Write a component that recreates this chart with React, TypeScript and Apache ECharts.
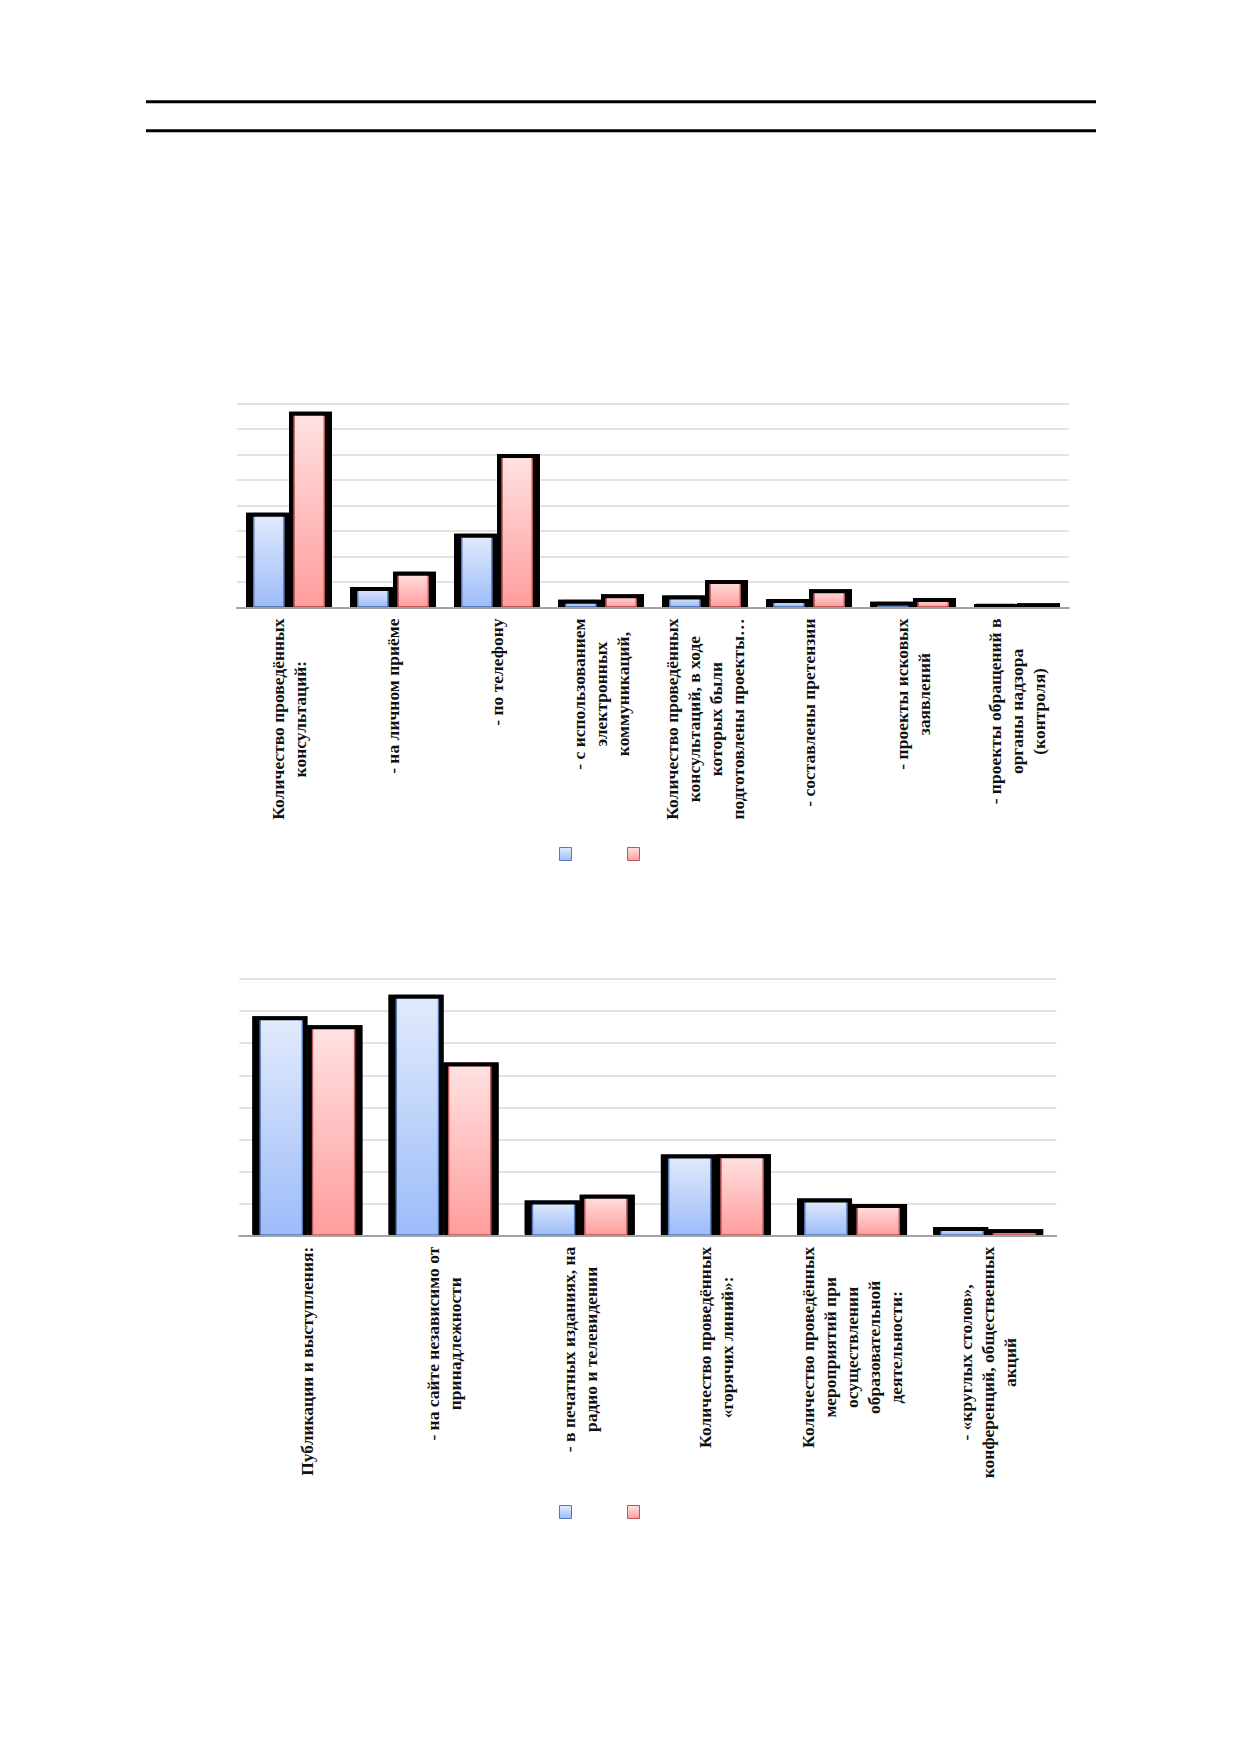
import React, { useEffect, useRef } from "react";
import * as echarts from "echarts";

// ---------- DATA ----------
const seriesNames = ["Ряд1", "Ряд2"];

const categories1 = [
  "Количество проведённых\nконсультаций:",
  "- на личном приёме",
  "- по телефону",
  "- с использованием\nэлектронных\nкоммуникаций,",
  "Количество проведённых\nконсультаций, в ходе\nкоторых были\nподготовлены проекты…",
  "- составлены претензии",
  "- проекты исковых\nзаявлений",
  "- проекты обращений в\nорганы надзора\n(контроля)",
];
const values1A = [372, 80, 289, 30, 47, 33, 23, 14];
const values1B = [768, 140, 602, 52, 108, 72, 37, 17];
const axisMax1 = 800;
const axisStep1 = 100;

const categories2 = [
  "Публикации и выступления:",
  "- на сайте независимо от\nпринадлежности",
  "- в печатных изданиях, на\nрадио и телевидении",
  "Количество проведённых\n«горячих линий»:",
  "Количество проведённых\nмероприятий при\nосуществлении\nобразовательной\nдеятельности:",
  "- «круглых столов»,\nконференций, общественных\nакций",
];
const values2A = [68.4, 75.1, 11.0, 25.3, 11.6, 2.7];
const values2B = [65.6, 54.0, 12.8, 25.4, 9.9, 2.0];
const axisMax2 = 80;
const axisStep2 = 10;

// ---------- STYLE ----------
const FONT = "Liberation Serif";
const TOP_BORDER = 4;
const SIDE_OUT = 7;
const SIDE_IN = 4.3;
const EDGE = 1.5;

const blueFill = () =>
  new echarts.graphic.LinearGradient(0, 0, 0, 1, [
    { offset: 0, color: "#e2ebfc" },
    { offset: 1, color: "#9dbcf9" },
  ]);
const redFill = () =>
  new echarts.graphic.LinearGradient(0, 0, 0, 1, [
    { offset: 0, color: "#ffe2e2" },
    { offset: 1, color: "#ff9d9d" },
  ]);
const blueEdge = "#5479b3";
const redEdge = "#b95656";

function labelFormatter(v: string) {
  return v
    .split("\n")
    .map((l) => "{c|" + l + "}")
    .join("\n");
}

function xAxesFor(gridIndex: number, data: string[]) {
  return [
    {
      type: "category",
      gridIndex,
      data,
      z: 5,
      axisLine: { show: true, lineStyle: { color: "#a3a3a3", width: 2 } },
      axisTick: { show: false },
      axisLabel: {
        interval: 0,
        rotate: 90,
        margin: 11,
        color: "#111",
        fontFamily: FONT,
        fontWeight: "bold",
        fontSize: 17.5,
        formatter: labelFormatter,
        rich: {
          c: {
            align: "center",
            fontFamily: FONT,
            fontWeight: "bold",
            fontSize: 17.5,
            lineHeight: 22,
            color: "#111",
          },
        },
      },
    },
    { type: "category", gridIndex, data, show: false },
    { type: "category", gridIndex, data, show: false },
  ];
}

function yAxisFor(gridIndex: number, max: number, step: number) {
  return {
    type: "value",
    gridIndex,
    min: 0,
    max,
    interval: step,
    axisLabel: { show: false },
    axisLine: { show: false },
    axisTick: { show: false },
    splitLine: { lineStyle: { color: "#d9d9d9", width: 1.5 } },
  };
}

// W = outer width of one bar. Layers: black body, coloured inset, black top rim.
function barSeries(
  xTop: number,
  xBody: number,
  xFill: number,
  yIdx: number,
  dataA: number[],
  dataB: number[],
  W: number
) {
  const fillW = W - SIDE_OUT - SIDE_IN;
  const fillOffset = SIDE_IN + fillW / 2; // centre distance from the junction
  const fillGap = ((2 * fillOffset) / fillW - 1) * 100;
  const fills = [blueFill(), redFill()];
  const edges = [blueEdge, redEdge];
  const datas = [dataA, dataB];
  const out: any[] = [];
  for (let i = 0; i < 2; i++) {
    out.push({
      type: "bar",
      name: seriesNames[i],
      xAxisIndex: xFill,
      yAxisIndex: yIdx,
      data: datas[i],
      barWidth: fillW,
      barGap: fillGap.toFixed(4) + "%",
      z: 2,
      silent: true,
      itemStyle: { color: fills[i], borderColor: edges[i], borderWidth: EDGE },
    });
  }
  for (let i = 0; i < 2; i++) {
    out.push({
      type: "bar",
      name: seriesNames[i],
      xAxisIndex: xBody,
      yAxisIndex: yIdx,
      data: datas[i],
      barWidth: W,
      barGap: "0%",
      z: 1,
      silent: true,
      itemStyle: { color: "#000" },
    });
  }
  for (let i = 0; i < 2; i++) {
    out.push({
      type: "bar",
      name: seriesNames[i],
      xAxisIndex: xTop,
      yAxisIndex: yIdx,
      data: datas[i],
      barWidth: W,
      barGap: "0%",
      z: 3,
      silent: true,
      itemStyle: {
        color: "rgba(0,0,0,0)",
        borderColor: "#000",
        borderWidth: TOP_BORDER,
        // skip the bottom edge of the rim
        borderType: [0, W - TOP_BORDER, 100000, 0],
      },
    });
  }
  return out;
}

function legendAt(top: number) {
  return {
    left: 559,
    top,
    padding: 0,
    orient: "horizontal",
    icon: "rect",
    itemWidth: 12,
    itemHeight: 13,
    itemGap: 55,
    selectedMode: false,
    formatter: () => "",
    textStyle: { fontSize: 12, fontFamily: FONT },
    data: [
      {
        name: seriesNames[0],
        itemStyle: { color: blueFill(), borderColor: blueEdge, borderWidth: 1 },
      },
      {
        name: seriesNames[1],
        itemStyle: { color: redFill(), borderColor: redEdge, borderWidth: 1 },
      },
    ],
  };
}

export default function App() {
  const ref = useRef<HTMLDivElement>(null);

  useEffect(() => {
    if (!ref.current) return;
    const chart = echarts.init(ref.current, undefined, { renderer: "svg" });
    const option: any = {
      animation: false,
      backgroundColor: "#ffffff",
      textStyle: { fontFamily: FONT },
      graphic: [
        {
          type: "line",
          shape: { x1: 146, y1: 101.8, x2: 1096, y2: 101.8 },
          style: { stroke: "#000", lineWidth: 3 },
        },
        {
          type: "line",
          shape: { x1: 146, y1: 130.8, x2: 1096, y2: 130.8 },
          style: { stroke: "#000", lineWidth: 3 },
        },
      ],
      grid: [
        { left: 237, top: 403.5, width: 832, height: 204, containLabel: false },
        { left: 239.3, top: 979, width: 817, height: 256.7, containLabel: false },
      ],
      xAxis: [...xAxesFor(0, categories1), ...xAxesFor(1, categories2)],
      yAxis: [yAxisFor(0, axisMax1, axisStep1), yAxisFor(1, axisMax2, axisStep2)],
      legend: [legendAt(847), legendAt(1505)],
      series: [
        ...barSeries(0, 1, 2, 0, values1A, values1B, 43),
        ...barSeries(3, 4, 5, 1, values2A, values2B, 55),
      ],
    };
    chart.setOption(option);
    return () => {
      chart.dispose();
    };
  }, []);

  return (
    <div
      ref={ref}
      style={{
        position: "absolute",
        left: 0,
        top: 0,
        width: 1237,
        height: 1754,
        background: "#fff",
      }}
    />
  );
}
